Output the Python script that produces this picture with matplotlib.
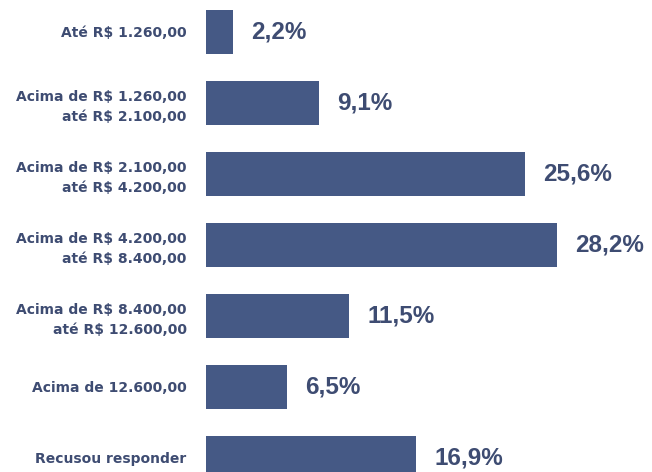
import matplotlib
matplotlib.use("Agg")
import matplotlib.pyplot as plt

categories = [
    "Até R$ 1.260,00",
    "Acima de R$ 1.260,00\naté R$ 2.100,00",
    "Acima de R$ 2.100,00\naté R$ 4.200,00",
    "Acima de R$ 4.200,00\naté R$ 8.400,00",
    "Acima de R$ 8.400,00\naté R$ 12.600,00",
    "Acima de 12.600,00",
    "Recusou responder",
]
values = [2.2, 9.1, 25.6, 28.2, 11.5, 6.5, 16.9]
value_labels = ["2,2%", "9,1%", "25,6%", "28,2%", "11,5%", "6,5%", "16,9%"]

bar_color = "#455985"
text_color = "#3e4c72"

fig = plt.figure(figsize=(6.52, 4.72), dpi=100)
ax = fig.add_axes([206 / 652, 0, 1 - 206 / 652, 1])

ypos = list(range(len(values)))
ax.barh(ypos, values, height=0.62, color=bar_color)

# percent labels to the right of the bars
for y, v, lab in zip(ypos, values, value_labels):
    ax.annotate(lab, (v, y), xytext=(13, 0), textcoords="offset points",
                ha="left", va="center", fontsize=17.5, fontweight="bold",
                family=["Liberation Sans", "DejaVu Sans"], color=text_color)

ax.set_yticks(ypos)
ax.set_yticklabels(categories, fontsize=10, fontweight="bold", color=text_color,
                   family="DejaVu Sans", linespacing=1.5)
ax.tick_params(axis="y", length=0, pad=14)
ax.set_xticks([])
ax.set_xlim(0, (652 - 206) / 12.45)
ax.set_ylim(6.204, -0.444)
for s in ax.spines.values():
    s.set_visible(False)

fig.savefig("out.png", dpi=100)
